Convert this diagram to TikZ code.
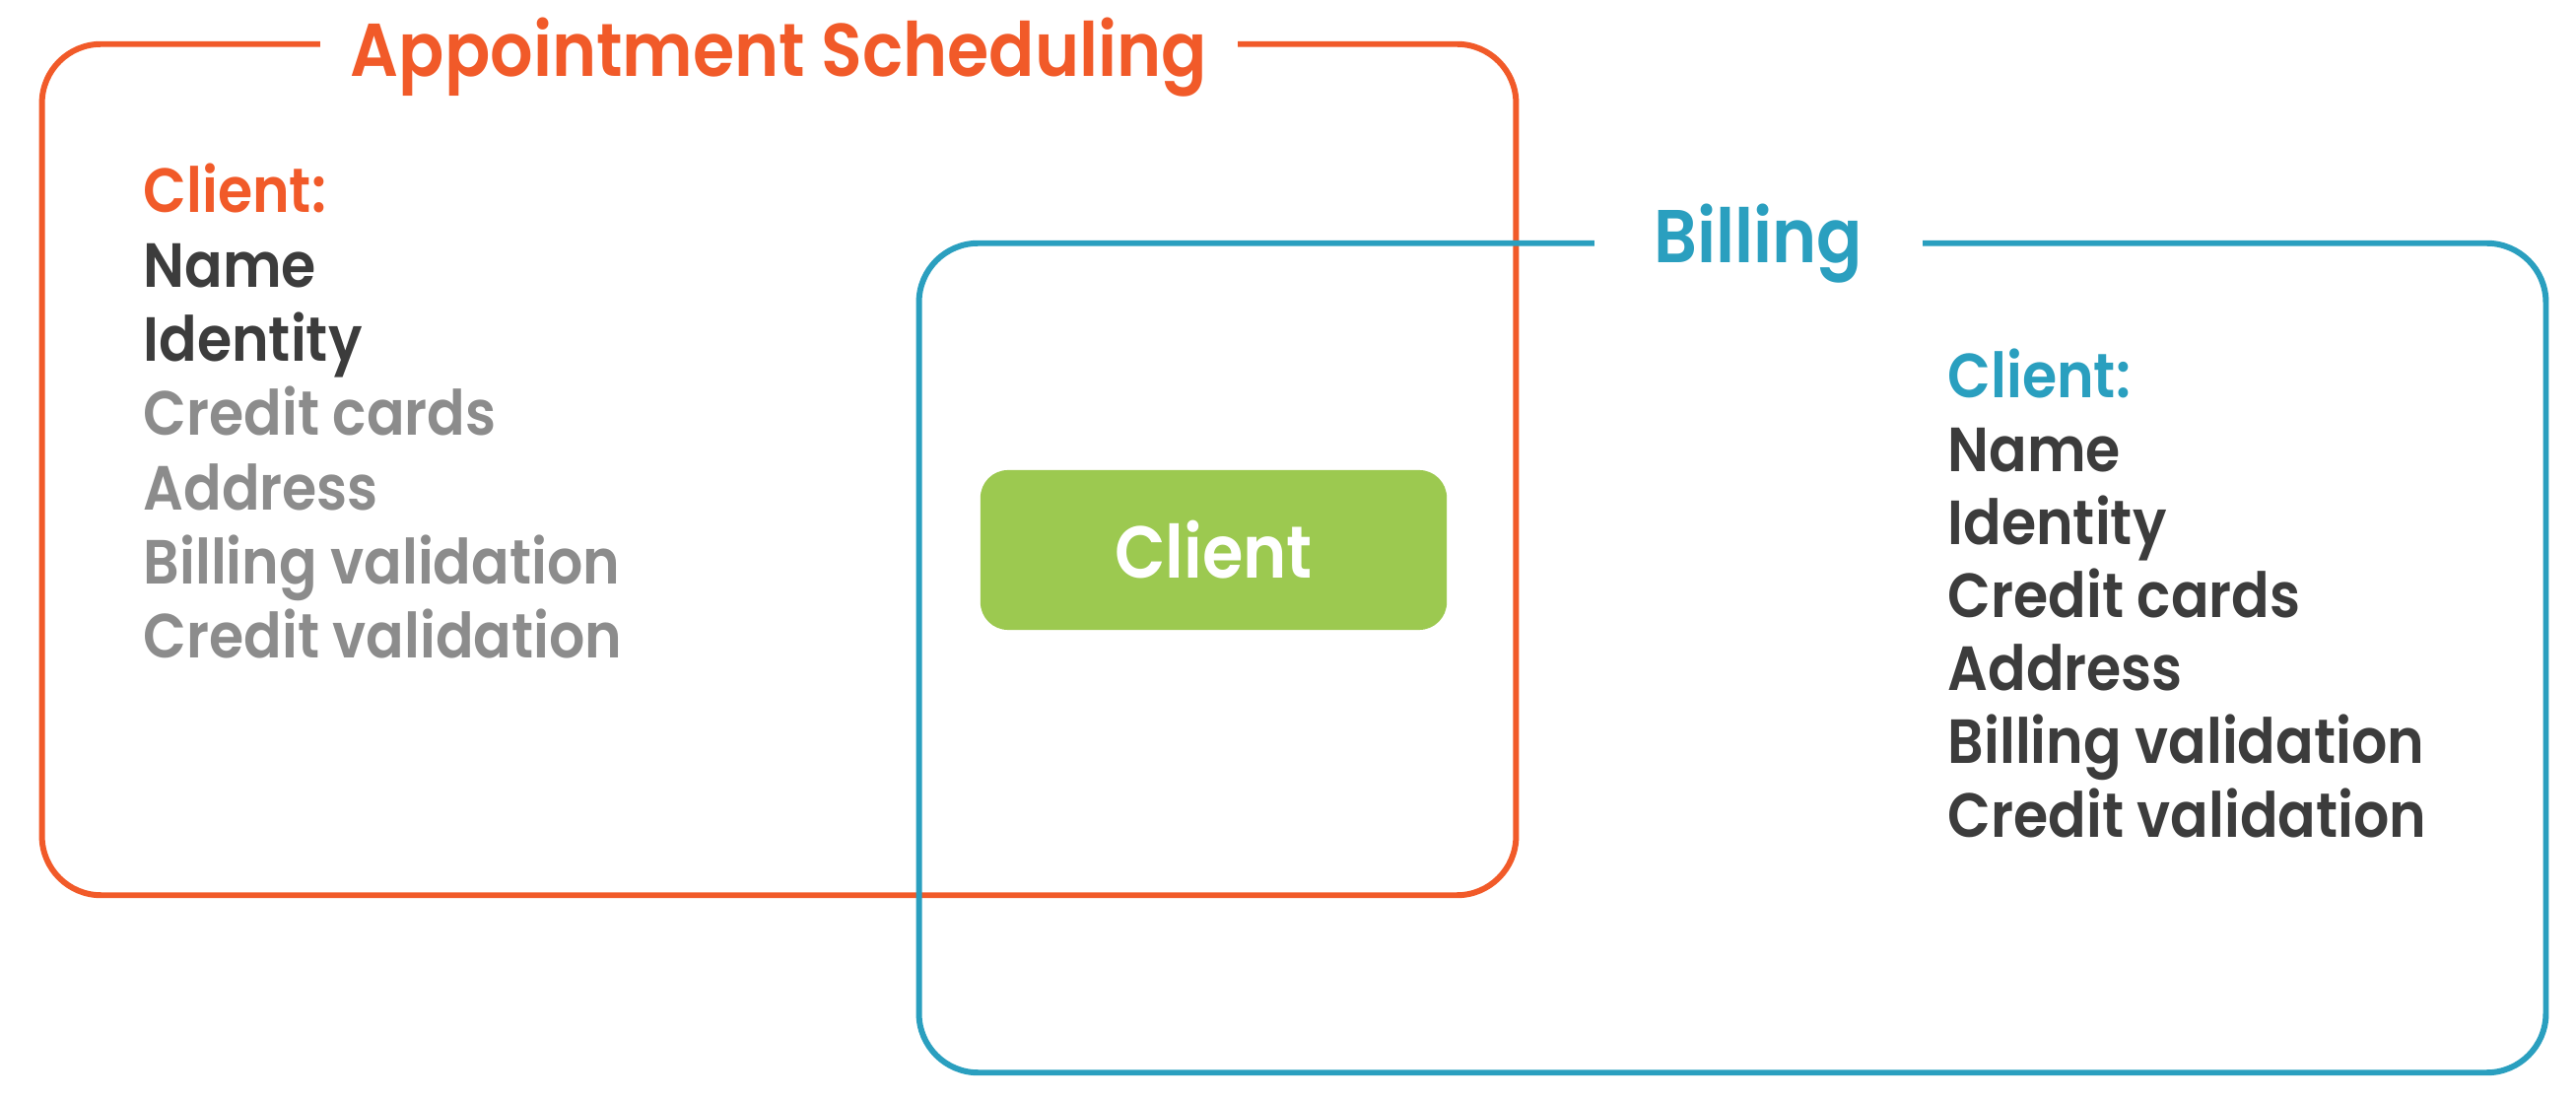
\documentclass[tikz,border=0pt]{standalone}
\usepackage{fontspec}
\setmainfont{Poppins}[BoldFont={* SemiBold}, FakeStretch=0.9]
\usetikzlibrary{positioning}

\definecolor{schedorange}{HTML}{F15A29}
\definecolor{billblue}{HTML}{2A9FBF}
\definecolor{clientgreen}{HTML}{9CC950}
\definecolor{darktext}{HTML}{3C3C3C}
\definecolor{greytext}{HTML}{8C8C8C}

\begin{document}
\begin{tikzpicture}[
    x=0.01cm, y=-0.01cm,
    frame/.style={rectangle, draw, line width=1.7pt, rounded corners=0.6cm, inner sep=0pt},
    title/.style={fill=white, inner sep=0pt, anchor=base, font=\bfseries\fontsize{21.6}{26}\selectfont},
    item/.style={anchor=base west, inner sep=0pt, font=\bfseries\fontsize{18}{22}\selectfont},
    entity/.style={rectangle, rounded corners=0.28cm, fill=clientgreen, text=white, minimum width=4.73cm, minimum height=1.62cm, font=\bfseries\fontsize{21.2}{26}\selectfont}
]
\useasboundingbox (0,0) rectangle (2614,1116);

\node[frame, draw=schedorange, minimum width=14.95cm, minimum height=8.63cm] (sched) at (790.5,476.5) {};
\node[frame, draw=billblue, minimum width=16.5cm, minimum height=8.41cm] (billing) at (1758,667.5) {};

\node[title, text=schedorange, minimum width=9.31cm] (schedtitle) at (790.5,78) {Appointment Scheduling};
\node[title, text=billblue, minimum width=3.33cm] (billtitle) at (1784.5,267) {Billing};

\foreach \txt/\col [count=\i from 0] in {Client:/schedorange, Name/darktext, Identity/darktext, Credit cards/greytext, Address/greytext, Billing validation/greytext, Credit validation/greytext}
    \node[item, text=\col] (sched\i) at (145,216+75.3*\i) {\txt};

\foreach \txt/\col [count=\i from 0] in {Client:/billblue, Name/darktext, Identity/darktext, Credit cards/darktext, Address/darktext, Billing validation/darktext, Credit validation/darktext}
    \node[item, text=\col] (bill\i) at (1976,404+74.2*\i) {\txt};

\node[entity] (client) at (1231.5,558) {Client};
\end{tikzpicture}
\end{document}
